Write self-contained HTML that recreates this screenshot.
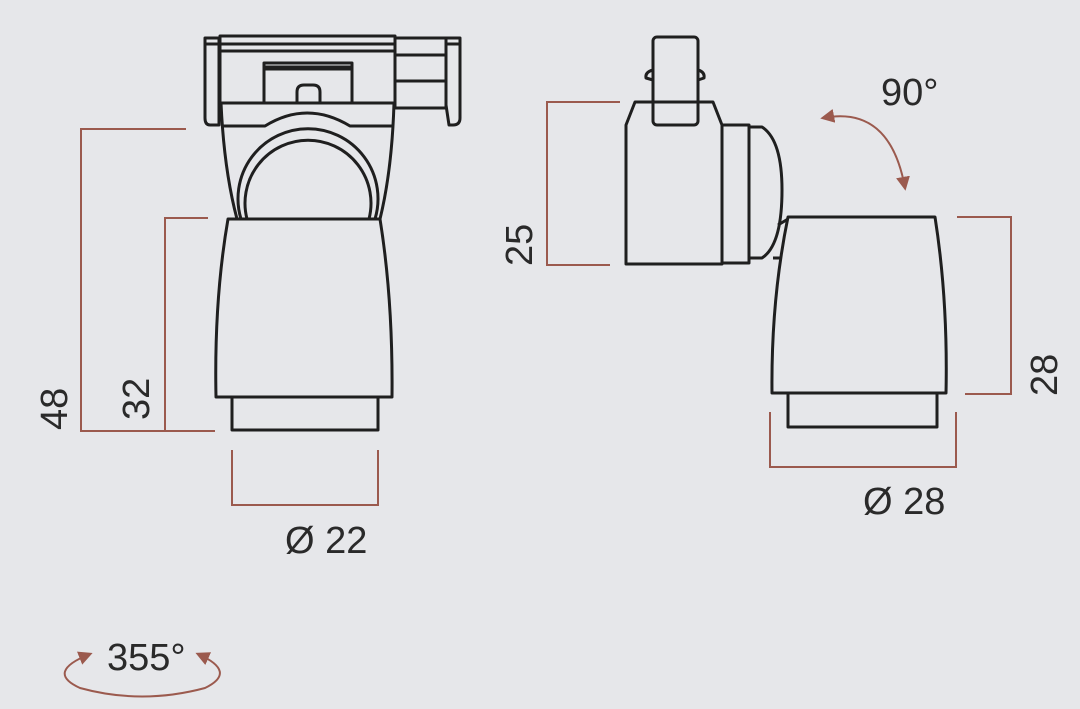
<!DOCTYPE html>
<html><head><meta charset="utf-8"><style>
html,body{margin:0;padding:0;background:#e6e7ea;}
svg{display:block;}
text{font-family:"Liberation Sans",sans-serif;fill:#2a2a2a;}
</style></head><body>
<svg width="1080" height="709" viewBox="0 0 1080 709" xmlns="http://www.w3.org/2000/svg">
<rect width="1080" height="709" fill="#e6e7ea"/>
<defs>
<marker id="ar" viewBox="0 0 10 10" refX="8" refY="5" markerWidth="7" markerHeight="7" orient="auto-start-reverse">
<path d="M0,0 L10,5 L0,10 z" fill="#9b5a4e"/></marker>
</defs>
<g fill="none" stroke="#1f1f1f" stroke-width="3" stroke-linejoin="round">
<path d="M205,38 H219 V125 H210 Q205,125 205,118 Z"/>
<line x1="205" y1="44" x2="219" y2="44"/>
<path d="M446,38 H460 V118 Q460,125 453,125 H449 L446,105 Z"/>
<line x1="446" y1="44" x2="460" y2="44"/>
<rect x="220" y="36" width="175" height="67"/>
<line x1="220" y1="44" x2="395" y2="44"/>
<line x1="220" y1="51" x2="395" y2="51"/>
<rect x="395" y="38" width="51" height="70"/>
<line x1="395" y1="55" x2="446" y2="55"/>
<line x1="395" y1="81" x2="446" y2="81"/>
<rect x="264" y="63" width="88" height="40"/>
<line x1="264" y1="68" x2="352" y2="68" stroke-width="5"/>
<path d="M297,103 V92 Q297,85 304,85 H313 Q320,85 320,92 V103"/>
<path d="M221,103 Q224,170 237,219"/>
<path d="M394,103 Q392,170 380,219"/>
<path d="M222,126 H265 Q307,100 350,126 H392"/>
<path d="M241,219 A70,70 0 1 1 375,219"/>
<path d="M247,219 A63,63 0 1 1 369,219"/>
<path d="M228,219 H380 Q393,300 392,397 H216 Q214,300 228,219 Z"/>
<rect x="232" y="397" width="146" height="33"/>

<rect x="653" y="37" width="45" height="88" rx="4"/>
<path d="M653,70 Q645,72 646,78 L653,80"/>
<path d="M698,70 Q705,72 704,78 L698,80"/>
<path d="M626,125 L635,102 H713 L722,125 V264 H626 Z"/>
<rect x="722" y="125" width="27" height="138"/>
<path d="M749,127 H762 Q782,140 782,190 Q782,245 762,258 H749"/>
<path d="M778,225 L788,219 M773,258 L780,258"/>
<path d="M788,217 H935 Q948,300 946,393 H772 Q771,300 788,217 Z"/>
<rect x="788" y="393" width="149" height="34"/>
</g>

<g fill="none" stroke="#9b5a4e" stroke-width="2">
<polyline points="186,129 81,129 81,431 215,431"/>
<polyline points="208,218 165,218 165,431"/>
<polyline points="232,450 232,505 378,505 378,450"/>
<polyline points="620,102 547,102 547,265 610,265"/>
<polyline points="957,217 1011,217 1011,394 965,394"/>
<polyline points="770,412 770,467 956,467 956,412"/>
<path d="M823,118 Q890,105 905,188" marker-start="url(#ar)" marker-end="url(#ar)"/>
<path d="M90,654 Q45,672 80,688 Q142,705 205,688 Q238,672 198,654" marker-start="url(#ar)" marker-end="url(#ar)"/>
</g>

<text font-size="38" transform="translate(67,430) rotate(-90)">48</text>
<text font-size="38" transform="translate(149,420) rotate(-90)">32</text>
<text font-size="38" transform="translate(532,266) rotate(-90)">25</text>
<text font-size="38" transform="translate(1057,396) rotate(-90)">28</text>
<text x="285" y="553" font-size="38">Ø 22</text>
<text x="863" y="514" font-size="38">Ø 28</text>
<text x="881" y="105" font-size="38">90°</text>
<text x="107" y="670" font-size="38">355°</text>
</svg>
</body></html>
